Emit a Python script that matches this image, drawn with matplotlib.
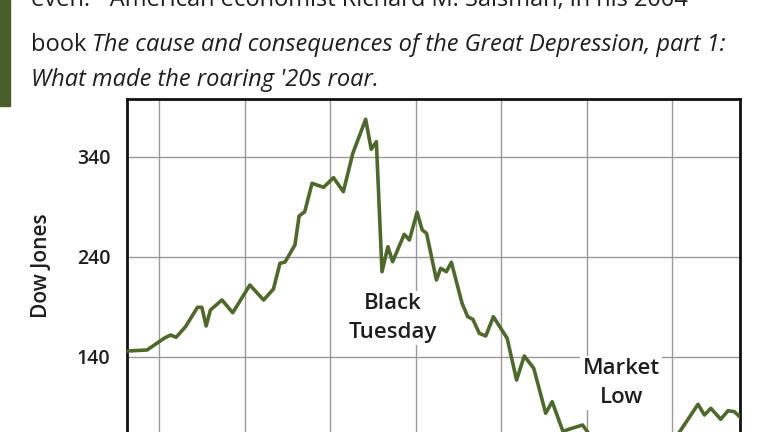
import matplotlib
matplotlib.use("Agg")
import matplotlib.pyplot as plt

# x in grid-column units (vertical gridlines at 1..7), y = Dow Jones
period = [0.627, 0.858, 1.058, 1.133, 1.198, 1.308, 1.448, 1.499, 1.549, 1.599,
          1.734, 1.86, 2.06, 2.221, 2.336, 2.412, 2.472, 2.587, 2.636, 2.702,
          2.787, 2.922, 3.038, 3.153, 3.264, 3.414, 3.479, 3.539, 3.605, 3.674,
          3.729, 3.865, 3.925, 4.015, 4.075, 4.126, 4.241, 4.291, 4.357, 4.416,
          4.541, 4.607, 4.667, 4.742, 4.818, 4.907, 5.068, 5.178, 5.268, 5.379,
          5.519, 5.594, 5.72, 5.8, 5.95, 6.05, 6.2, 6.4, 6.6, 6.85, 7.073,
          7.299, 7.374, 7.449, 7.565, 7.65, 7.725, 7.825]
dow = [146, 147, 158.7, 162, 159.7, 170.3, 189.7, 189.7, 171, 187,
       197, 184.3, 212, 197, 208, 233.7, 235, 252, 281, 285.3,
       313.7, 309.7, 319.3, 305.3, 343.7, 377.7, 347.7, 355.3, 225.3, 250.3,
       235.3, 262.7, 257, 284.7, 267, 263.7, 217, 228.7, 225.3, 234.7,
       193.7, 180.3, 177.7, 163.7, 161, 180.3, 158.7, 117, 141, 128.7,
       83.7, 95.3, 65.7, 68, 72, 60, 50, 45, 50, 55, 63.7,
       92.7, 82, 88.7, 77.7, 86.3, 85.3, 77]
y_ticks = [140, 240, 340]
grid_x = [1, 2, 3, 4, 5, 6, 7]

plt.rcParams["font.family"] = ["Open Sans", "DejaVu Sans"]
text_color = "#1e1e1e"
line_color = "#4d6a2b"

fig = plt.figure(figsize=(7.68, 4.32), dpi=100)
fig.patches.append(plt.Rectangle((0, 0.755), 0.013, 0.245, transform=fig.transFigure,
                                 color="#4a5e2a", zorder=0))

# header text (partially cut at top, as in the reference)
fig.text(0.04, 1.0, "even. ~American economist Richard M. Salsman, in his 2004",
         fontsize=17, color=text_color, va="center")
t1 = fig.text(0.04, 0.895, "book ", fontsize=17, color=text_color, va="center")
fig.canvas.draw()
bb = t1.get_window_extent()
fig.text(bb.x1 / fig.bbox.width, 0.895,
         "The cause and consequences of the Great Depression, part 1:",
         fontsize=17, style="italic", color=text_color, va="center")
fig.text(0.04, 0.815, "What made the roaring '20s roar.", fontsize=17,
         style="italic", color=text_color, va="center")

ax = fig.add_axes([127 / 768, 0, 613 / 768, 333 / 432])
ax.plot(period, dow, color=line_color, linewidth=2.6, zorder=3)
ax.set_xlim(0.624, 7.79)
ax.set_ylim(65, 398)
ax.set_yticks(y_ticks)
ax.set_xticks(grid_x)
ax.set_xticklabels([])
ax.tick_params(axis="both", length=0)
ax.tick_params(axis="y", pad=12, labelsize=14, labelcolor=text_color)
for lab in ax.get_yticklabels():
    lab.set_fontweight("semibold")
ax.grid(True, color="#9a9a9a", linewidth=1.0)
ax.set_axisbelow(True)
for side in ("top", "left", "right"):
    ax.spines[side].set_linewidth(2)
    ax.spines[side].set_color("#111111")
ax.spines["bottom"].set_visible(False)
ax.set_ylabel("Dow Jones", fontsize=15, color=text_color, labelpad=18,
              fontweight="semibold")

box = {"facecolor": "white", "edgecolor": "none", "pad": 2}
ax.text(3.73, 179, "Black\nTuesday", fontsize=16, ha="center", va="center",
        color=text_color, linespacing=1.45, bbox=box, zorder=4, fontweight="semibold")
ax.text(6.4, 114, "Market\nLow", fontsize=16, ha="center", va="center",
        color=text_color, linespacing=1.45, bbox=box, zorder=4, fontweight="semibold")

fig.savefig("out.png", dpi=100)
